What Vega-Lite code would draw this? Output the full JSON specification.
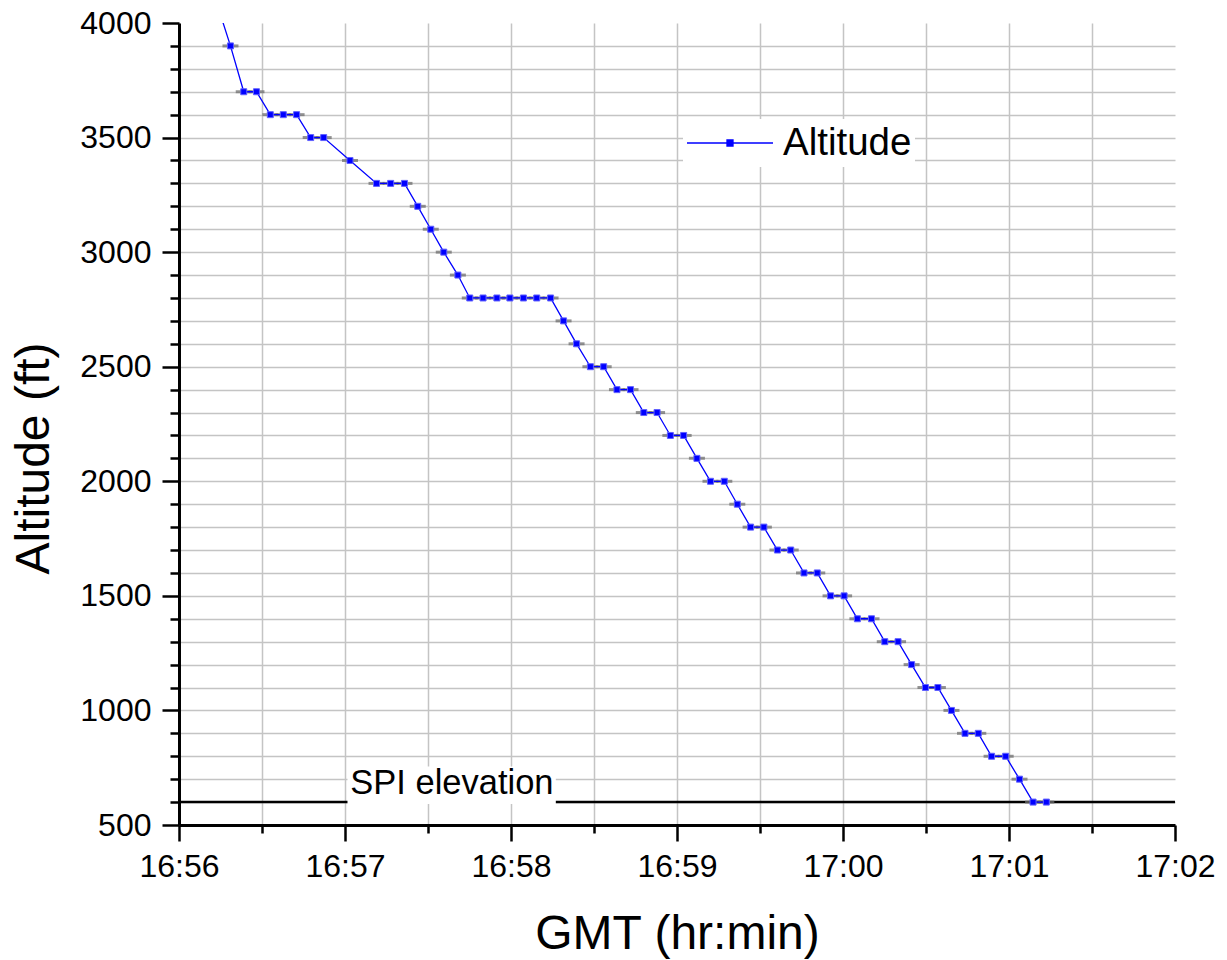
{
  "$schema": "https://vega.github.io/schema/vega-lite/v6.json",
  "width": 996,
  "height": 802,
  "autosize": "none",
  "padding": {"left": 179, "top": 23, "right": 52, "bottom": 135},
  "background": "white",
  "config": {
    "font": "Liberation Sans",
    "view": {"stroke": null},
    "axis": {
      "domainColor": "black",
      "domainWidth": 3,
      "tickColor": "black",
      "tickWidth": 2.5,
      "gridColor": "#c4c4c4",
      "gridWidth": 1.5,
      "labelColor": "black",
      "titleColor": "black",
      "labelFontSize": 32,
      "labelFont": "Liberation Sans",
      "titleFont": "Liberation Sans",
      "titleFontWeight": "normal",
      "labelOverlap": false,
      "labelFlush": false
    }
  },
  "datasets": {
    "track": [
      {"t": "2015-01-01T16:56:13.300Z", "alt": 4100},
      {"t": "2015-01-01T16:56:18.600Z", "alt": 3900},
      {"t": "2015-01-01T16:56:23.400Z", "alt": 3700},
      {"t": "2015-01-01T16:56:28.000Z", "alt": 3700},
      {"t": "2015-01-01T16:56:33.000Z", "alt": 3600},
      {"t": "2015-01-01T16:56:37.700Z", "alt": 3600},
      {"t": "2015-01-01T16:56:42.500Z", "alt": 3600},
      {"t": "2015-01-01T16:56:47.600Z", "alt": 3500},
      {"t": "2015-01-01T16:56:52.300Z", "alt": 3500},
      {"t": "2015-01-01T16:57:01.800Z", "alt": 3400},
      {"t": "2015-01-01T16:57:11.400Z", "alt": 3300},
      {"t": "2015-01-01T16:57:16.500Z", "alt": 3300},
      {"t": "2015-01-01T16:57:21.500Z", "alt": 3300},
      {"t": "2015-01-01T16:57:26.300Z", "alt": 3200},
      {"t": "2015-01-01T16:57:31.000Z", "alt": 3100},
      {"t": "2015-01-01T16:57:35.700Z", "alt": 3000},
      {"t": "2015-01-01T16:57:40.800Z", "alt": 2900},
      {"t": "2015-01-01T16:57:45.100Z", "alt": 2800},
      {"t": "2015-01-01T16:57:49.900Z", "alt": 2800},
      {"t": "2015-01-01T16:57:54.900Z", "alt": 2800},
      {"t": "2015-01-01T16:57:59.600Z", "alt": 2800},
      {"t": "2015-01-01T16:58:04.500Z", "alt": 2800},
      {"t": "2015-01-01T16:58:09.300Z", "alt": 2800},
      {"t": "2015-01-01T16:58:14.300Z", "alt": 2800},
      {"t": "2015-01-01T16:58:19.000Z", "alt": 2700},
      {"t": "2015-01-01T16:58:23.700Z", "alt": 2600},
      {"t": "2015-01-01T16:58:28.700Z", "alt": 2500},
      {"t": "2015-01-01T16:58:33.500Z", "alt": 2500},
      {"t": "2015-01-01T16:58:38.300Z", "alt": 2400},
      {"t": "2015-01-01T16:58:43.200Z", "alt": 2400},
      {"t": "2015-01-01T16:58:48.000Z", "alt": 2300},
      {"t": "2015-01-01T16:58:52.800Z", "alt": 2300},
      {"t": "2015-01-01T16:58:57.600Z", "alt": 2200},
      {"t": "2015-01-01T16:59:02.400Z", "alt": 2200},
      {"t": "2015-01-01T16:59:07.200Z", "alt": 2100},
      {"t": "2015-01-01T16:59:12.100Z", "alt": 2000},
      {"t": "2015-01-01T16:59:17.100Z", "alt": 2000},
      {"t": "2015-01-01T16:59:21.800Z", "alt": 1900},
      {"t": "2015-01-01T16:59:26.600Z", "alt": 1800},
      {"t": "2015-01-01T16:59:31.400Z", "alt": 1800},
      {"t": "2015-01-01T16:59:36.300Z", "alt": 1700},
      {"t": "2015-01-01T16:59:41.100Z", "alt": 1700},
      {"t": "2015-01-01T16:59:45.900Z", "alt": 1600},
      {"t": "2015-01-01T16:59:50.700Z", "alt": 1600},
      {"t": "2015-01-01T16:59:55.500Z", "alt": 1500},
      {"t": "2015-01-01T17:00:00.400Z", "alt": 1500},
      {"t": "2015-01-01T17:00:05.200Z", "alt": 1400},
      {"t": "2015-01-01T17:00:10.300Z", "alt": 1400},
      {"t": "2015-01-01T17:00:15.100Z", "alt": 1300},
      {"t": "2015-01-01T17:00:19.900Z", "alt": 1300},
      {"t": "2015-01-01T17:00:24.800Z", "alt": 1200},
      {"t": "2015-01-01T17:00:29.800Z", "alt": 1100},
      {"t": "2015-01-01T17:00:34.300Z", "alt": 1100},
      {"t": "2015-01-01T17:00:39.200Z", "alt": 1000},
      {"t": "2015-01-01T17:00:44.100Z", "alt": 900},
      {"t": "2015-01-01T17:00:48.900Z", "alt": 900},
      {"t": "2015-01-01T17:00:53.700Z", "alt": 800},
      {"t": "2015-01-01T17:00:58.800Z", "alt": 800},
      {"t": "2015-01-01T17:01:03.800Z", "alt": 700},
      {"t": "2015-01-01T17:01:08.700Z", "alt": 600},
      {"t": "2015-01-01T17:01:13.500Z", "alt": 600}
    ],
    "spi": [
      {"t": "2015-01-01T16:56:00.000Z", "t2": "2015-01-01T17:02:00.000Z", "alt": 600}
    ],
    "note": [
      {"t": "2015-01-01T16:57:01.900Z", "alt": 600, "label": "SPI elevation"}
    ]
  },
  "encoding": {
    "x": {
      "field": "t",
      "type": "temporal",
      "title": "GMT (hr:min)",
      "scale": {
        "type": "utc",
        "domain": [1420131360000, 1420131720000]
      },
      "axis": {
        "values": [1420131360000, 1420131390000, 1420131420000, 1420131450000, 1420131480000, 1420131510000, 1420131540000, 1420131570000, 1420131600000, 1420131630000, 1420131660000, 1420131690000, 1420131720000],
        "labelExpr": "utcseconds(datum.value) == 0 ? utcFormat(datum.value, '%H:%M') : ''",
        "tickSize": {"condition": {"test": "utcseconds(datum.value) == 0", "value": 16}, "value": 8},
        "labelPadding": 10,
        "gridOpacity": {"condition": {"test": "datum.value >= 1420131719000", "value": 0}, "value": 1},
        "titleFontSize": 48,
        "titleBaseline": "alphabetic",
        "titleY": 123
      }
    },
    "y": {
      "field": "alt",
      "type": "quantitative",
      "title": "Altitude (ft)",
      "scale": {"domain": [500, 4000], "nice": false, "zero": false},
      "axis": {
        "values": [500, 600, 700, 800, 900, 1000, 1100, 1200, 1300, 1400, 1500, 1600, 1700, 1800, 1900, 2000, 2100, 2200, 2300, 2400, 2500, 2600, 2700, 2800, 2900, 3000, 3100, 3200, 3300, 3400, 3500, 3600, 3700, 3800, 3900, 4000],
        "format": "d",
        "labelExpr": "datum.value % 500 == 0 ? datum.label : ''",
        "tickSize": {"condition": {"test": "datum.value % 500 == 0", "value": 17}, "value": 9},
        "labelPadding": 11,
        "gridOpacity": {"condition": {"test": "datum.value >= 4000", "value": 0}, "value": 1},
        "titleFontSize": 48,
        "titleAngle": 270,
        "titleAlign": "center",
        "titleBaseline": "alphabetic",
        "titleX": -131,
        "titleY": 435
      }
    }
  },
  "layer": [
    {
      "data": {"name": "spi"},
      "mark": {"type": "rule", "color": "black", "strokeWidth": 2.5},
      "encoding": {"x2": {"field": "t2"}}
    },
    {
      "data": {"name": "note"},
      "mark": {"type": "rect", "color": "white", "opacity": 1},
      "encoding": {
        "x": {"datum": {"year": 2015, "month": 1, "date": 1, "hours": 16, "minutes": 57, "seconds": 0, "milliseconds": 900, "utc": true}},
        "x2": {"datum": {"year": 2015, "month": 1, "date": 1, "hours": 16, "minutes": 58, "seconds": 16, "milliseconds": 200, "utc": true}},
        "y": {"datum": 592},
        "y2": {"datum": 755}
      }
    },
    {
      "data": {"name": "note"},
      "mark": {"type": "text", "align": "left", "baseline": "alphabetic", "dy": -8, "fontSize": 34.5, "color": "black", "font": "Liberation Sans"},
      "encoding": {
        "text": {"field": "label"}
      }
    },
    {
      "data": {"name": "track"},
      "mark": {"type": "tick", "orient": "horizontal", "size": 16, "thickness": 3, "color": "#707070", "opacity": 0.75, "clip": true},
      "encoding": {}
    },
    {
      "data": {"name": "track"},
      "mark": {"type": "line", "strokeWidth": 1.3, "clip": true},
      "encoding": {
        "color": {
          "datum": "Altitude",
          "scale": {"range": ["#0000ff"]},
          "legend": {
            "title": null,
            "orient": "none",
            "legendX": 504,
            "legendY": 96,
            "symbolType": "M-1,0L1,0M-0.07,-0.07L0.07,-0.07L0.07,0.07L-0.07,0.07Z",
            "symbolSize": 7396,
            "symbolStrokeWidth": 1.3,
            "symbolFillColor": "#0000ff",
            "symbolStrokeColor": "#0000ff",
            "clipHeight": 42,
            "labelFontSize": 38.5,
            "labelFont": "Liberation Sans",
            "labelColor": "black",
            "labelOffset": 9,
            "fillColor": "white",
            "padding": 3
          }
        }
      }
    },
    {
      "data": {"name": "track"},
      "mark": {"type": "point", "shape": "square", "filled": true, "size": 36, "fill": "#0000ff", "stroke": "#6060ff", "strokeWidth": 1, "opacity": 1, "clip": true},
      "encoding": {}
    }
  ]
}
